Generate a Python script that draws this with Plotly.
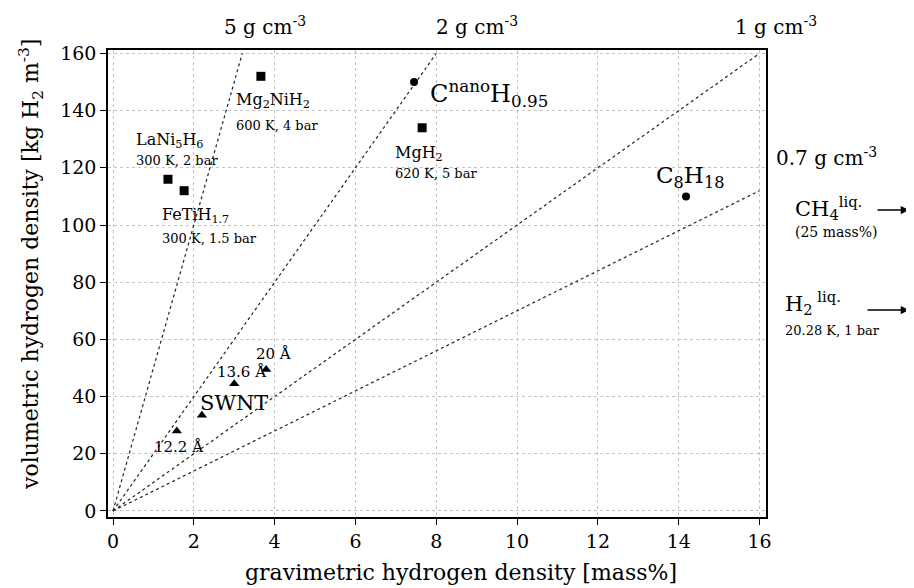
import plotly.graph_objects as go

# ---- data ----
density_lines = [5, 2, 1, 0.7]  # g cm^-3
hydride_names = ["LaNi5H6", "FeTiH1.7", "Mg2NiH2", "MgH2"]
hydride_x = [1.36, 1.76, 3.66, 7.65]
hydride_y = [116, 112, 152, 134]
carbon_names = ["CnanoH0.95", "C8H18"]
carbon_x = [7.45, 14.18]
carbon_y = [150, 110]
swnt_x = [1.58, 2.2, 3.0, 3.79]
swnt_y = [28, 33.5, 44.5, 49.5]
x_ticks = [0, 2, 4, 6, 8, 10, 12, 14, 16]
y_ticks = [0, 20, 40, 60, 80, 100, 120, 140, 160]

XMAX, YMAX = 16, 160
FONT = "DejaVu Serif"

fig = go.Figure()

# density lines: volumetric [kg/m3] = 10 * rho[g/cm3] * mass%
for d in density_lines:
    slope = 10 * d
    xe = min(XMAX, YMAX / slope)
    fig.add_trace(go.Scatter(x=[0, xe], y=[0, slope * xe], mode="lines",
                             line=dict(color="#222", width=1.2, dash="dot"),
                             showlegend=False, hoverinfo="skip"))

fig.add_trace(go.Scatter(x=hydride_x, y=hydride_y, mode="markers",
                         marker=dict(symbol="square", size=9, color="black"),
                         showlegend=False))
fig.add_trace(go.Scatter(x=carbon_x, y=carbon_y, mode="markers",
                         marker=dict(symbol="circle", size=8, color="black"),
                         showlegend=False))
fig.add_trace(go.Scatter(x=swnt_x, y=swnt_y, mode="markers",
                         marker=dict(symbol="triangle-up", size=9, color="black"),
                         showlegend=False))

# plot area in page pixels (page has an 8px body margin)
L, R, T, B = 108, 766, 50, 517
W, H = 914, 588
PAD = 8

def px(xp, yp):
    return (xp - L) / (R - L), (B - yp) / (B - T)

def label(text, xp, yp, size, xanchor="left", angle=0):
    x, y = px(xp, yp)
    fig.add_annotation(text=text, x=x, y=y, xref="paper", yref="paper",
                       showarrow=False, xanchor=xanchor, yanchor="middle",
                       textangle=angle,
                       font=dict(family=FONT, size=size, color="black"))

def arrow(x0p, x1p, yp):
    x1, y = px(x1p, yp)
    fig.add_annotation(text="", x=x1, y=y, xref="paper", yref="paper",
                       ax=x0p - x1p, ay=0, showarrow=True, arrowhead=2,
                       arrowsize=1.1, arrowwidth=1.5, arrowcolor="black")

cm3 = " g cm<sup>-3</sup>"
label("5" + cm3, 265, 26, 20, "center")
label("2" + cm3, 477, 26, 20, "center")
label("1" + cm3, 776, 26, 20, "center")
label("0.7" + cm3, 826, 157, 20, "center")

label("Mg<sub>2</sub>NiH<sub>2</sub>", 234, 100, 16)
label("600 K, 4 bar", 234, 125, 13)
label("LaNi<sub>5</sub>H<sub>6</sub>", 134, 140, 16)
label("300 K, 2 bar", 134, 160, 13)
label("FeTiH<sub>1.7</sub>", 160, 215, 16)
label("300 K, 1.5 bar", 160, 238, 13)
label("C<sup>nano</sup>H<sub>0.95</sub>", 428, 93, 24)
label("MgH<sub>2</sub>", 393, 153, 16)
label("620 K, 5 bar", 393, 173, 13)
label("C<sub>8</sub>H<sub>18</sub>", 654, 177, 23)
label("SWNT", 198, 403, 21)
label("12.2 Å", 178, 447, 15, "center")
label("13.6 Å", 241, 372, 15, "center")
label("20 Å", 273, 354, 15, "center")

label("CH<sub>4</sub><sup>liq.</sup>", 793, 208, 21)
label("(25 mass%)", 793, 232, 14)
arrow(876, 909, 210)
label("H<sub>2</sub><sup> liq.</sup>", 783, 303, 21)
label("20.28 K, 1 bar", 783, 330, 13)
arrow(866, 909, 310)

# axis titles
label("gravimetric hydrogen density [mass%]", 461, 572, 22, "center")
label("volumetric hydrogen density [kg H<sub>2</sub> m<sup>-3</sup>]", 31, 265, 22,
      "center", angle=-90)

axis_common = dict(showline=True, linecolor="black", linewidth=1.5, mirror=True,
                   ticks="outside", ticklen=6, tickcolor="black",
                   showgrid=True, gridcolor="#c4c4c4", griddash="dot", gridwidth=1,
                   zeroline=False, automargin=False,
                   tickfont=dict(family=FONT, size=19, color="black"))

fig.update_xaxes(range=[-0.124, 16.16], tickvals=x_ticks, **axis_common)
fig.update_yaxes(range=[-2.1, 161.2], tickvals=y_ticks, **axis_common)

fig.update_layout(width=W - PAD, height=H - PAD, plot_bgcolor="white", paper_bgcolor="white",
                  margin=dict(l=L - PAD, r=W - R, t=T - PAD, b=H - B), showlegend=False)

fig.write_html("out.html")
